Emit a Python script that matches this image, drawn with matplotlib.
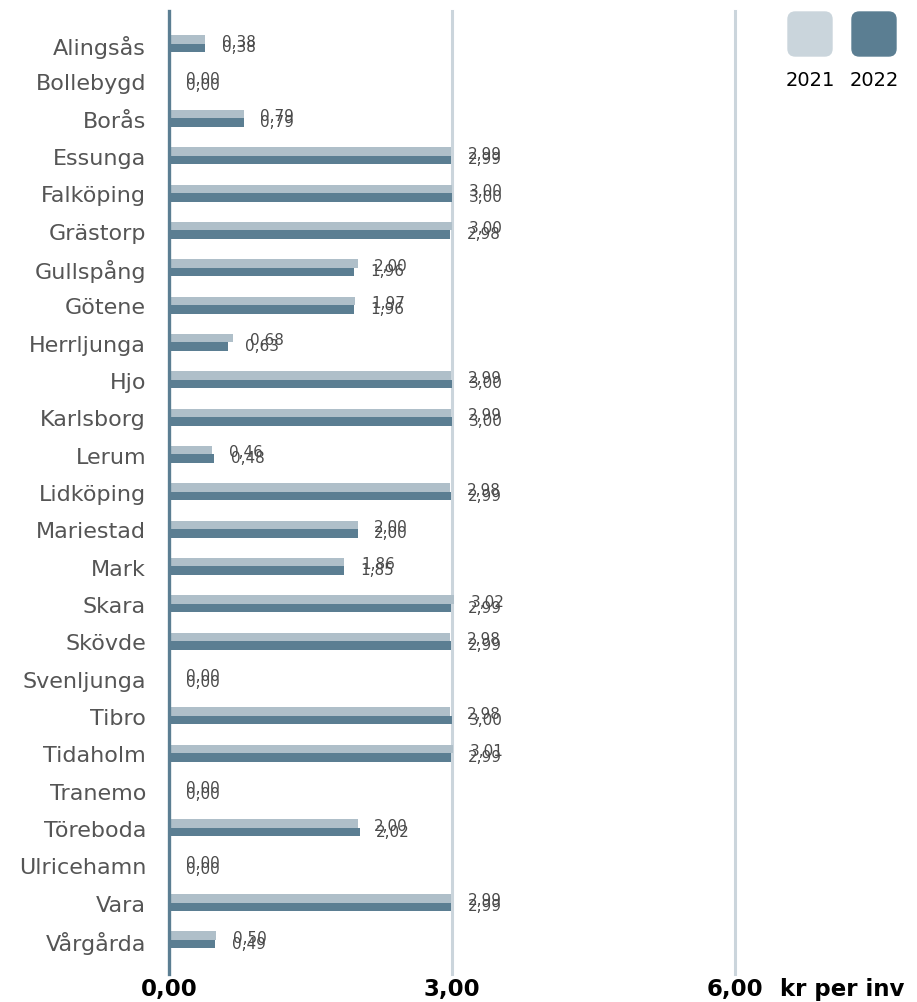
import matplotlib.pyplot as plt
from matplotlib.patches import FancyBboxPatch

# kr per invånare, 2021 and 2022
kommuner = ["Alingsås", "Bollebygd", "Borås", "Essunga", "Falköping", "Grästorp",
            "Gullspång", "Götene", "Herrljunga", "Hjo", "Karlsborg", "Lerum",
            "Lidköping", "Mariestad", "Mark", "Skara", "Skövde", "Svenljunga",
            "Tibro", "Tidaholm", "Tranemo", "Töreboda", "Ulricehamn", "Vara",
            "Vårgårda"]
v2021 = [0.38, 0.00, 0.79, 2.99, 3.00, 3.00, 2.00, 1.97, 0.68, 2.99, 2.99, 0.46,
         2.98, 2.00, 1.86, 3.02, 2.98, 0.00, 2.98, 3.01, 0.00, 2.00, 0.00, 2.99,
         0.50]
v2022 = [0.38, 0.00, 0.79, 2.99, 3.00, 2.98, 1.96, 1.96, 0.63, 3.00, 3.00, 0.48,
         2.99, 2.00, 1.85, 2.99, 2.99, 0.00, 3.00, 2.99, 0.00, 2.02, 0.00, 2.99,
         0.49]
years = ["2021", "2022"]
xticks = [0, 3, 6]

C_LIGHT = "#afbfc9"
C_DARK = "#5b7e92"
C_GRID = "#cbd5dc"

W, H = 917, 1003
fig = plt.figure(figsize=(W / 100, H / 100), dpi=100)
ax = fig.add_axes([169 / W, 28 / H, (735 - 169) / W, 963 / H])

n = len(kommuner)
pos = list(range(n))
ax.barh([p - 0.12 for p in pos], v2021, height=0.23, color=C_LIGHT, zorder=2)
ax.barh([p + 0.11 for p in pos], v2022, height=0.23, color=C_DARK, zorder=3)

fmt = lambda v: f"{v:.2f}".replace(".", ",")
for p, a, b in zip(pos, v2021, v2022):
    ax.annotate(fmt(a), (a, p - 0.08), xytext=(12, 0), textcoords="offset points",
                va="center", ha="left", fontsize=11, color="#4a4a4a")
    ax.annotate(fmt(b), (b, p + 0.08), xytext=(12, 0), textcoords="offset points",
                va="center", ha="left", fontsize=11, color="#4a4a4a")

ax.set_xlim(0, 6)
ax.set_ylim(24.91, -0.884)
for x in xticks[1:]:
    ax.axvline(x, color=C_GRID, lw=2.2, zorder=1, clip_on=False)

for s in ["top", "right", "bottom"]:
    ax.spines[s].set_visible(False)
ax.spines["left"].set_color(C_DARK)
ax.spines["left"].set_linewidth(2.4)
ax.spines["left"].set_zorder(4)

ax.set_yticks(pos)
ax.set_yticklabels(kommuner, fontsize=16, color="#555555")
ax.tick_params(axis="y", length=0, pad=16.5)
ax.set_xticks(xticks)
ax.set_xticklabels([fmt(x) for x in xticks], fontsize=16.5, fontweight="bold")
ax.tick_params(axis="x", length=0, pad=2)
fig.text(780 / W, 1 - 990 / H, "kr per inv", fontsize=16.5, fontweight="bold",
         ha="left", va="center")

# legend swatches
for cx, col, yr in zip([810, 874], ["#cad5dc", C_DARK], years):
    sw = FancyBboxPatch(((cx - 22) / W, 1 - 57 / H), 44 / W, 44 / H,
                        boxstyle="round,pad=0,rounding_size=0.008",
                        transform=fig.transFigure, color=col, mutation_aspect=W / H)
    fig.patches.append(sw)
    fig.text(cx / W, 1 - 80 / H, yr, fontsize=14, ha="center", va="center")

fig.savefig("out.png", dpi=100)
